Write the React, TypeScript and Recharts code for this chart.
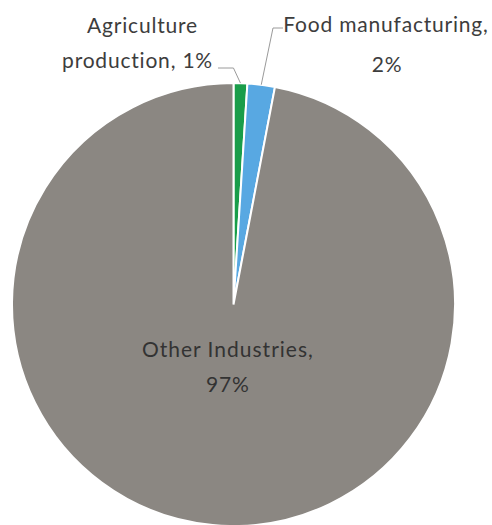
import { PieChart, Pie, Cell } from "recharts";

const categories = ["Agriculture production", "Food manufacturing", "Other Industries"];
const shares = [1, 2, 97];
const colors = ["#199d4a", "#58a8e2", "#8b8782"];

const data = categories.map((name, i) => ({ name, value: shares[i] }));

const RAD = Math.PI / 180;
const FONT = "Lato, 'Open Sans', sans-serif";
const TEXT = "#3d3d3d";
const LEADER = "#9a9a9a";

const txt = { fontSize: 21, fontFamily: FONT, letterSpacing: 0.8 };

function renderLabel(props: any) {
  const { cx, cy, midAngle, outerRadius, index, value } = props;
  const sx = cx + outerRadius * Math.cos(-midAngle * RAD);
  const sy = cy + outerRadius * Math.sin(-midAngle * RAD);
  if (index === 0) {
    const mx = sx - 7;
    const my = 68;
    const ex = 218;
    return (
      <g>
        <polyline points={`${sx},${sy} ${mx},${my} ${ex},${my}`} fill="none" stroke={LEADER} strokeWidth={1} />
        <text x={142.5} y={33} textAnchor="middle" fill={TEXT} {...txt}>
          Agriculture
        </text>
        <text x={213} y={68} textAnchor="end" fill={TEXT} {...txt}>
          {`production, ${value}%`}
        </text>
      </g>
    );
  }
  if (index === 1) {
    const mx = 273;
    const my = 28;
    const ex = 283;
    return (
      <g>
        <polyline points={`${sx},${sy} ${mx},${my} ${ex},${my}`} fill="none" stroke={LEADER} strokeWidth={1} />
        <text x={386} y={32} textAnchor="middle" fill={TEXT} {...txt}>
          Food manufacturing,
        </text>
        <text x={387} y={72} textAnchor="middle" fill={TEXT} {...txt}>
          {`${value}%`}
        </text>
      </g>
    );
  }
  const lx = cx + 60 * Math.cos(-midAngle * RAD);
  const ly = cy + 60 * Math.sin(-midAngle * RAD);
  return (
    <g>
      <text x={lx} y={ly - 7} textAnchor="middle" fill="#333" {...txt} letterSpacing={1}>
        Other Industries,
      </text>
      <text x={lx} y={ly + 28} textAnchor="middle" fill="#333" {...txt}>
        {`${value}%`}
      </text>
    </g>
  );
}

export default function App() {
  return (
    <div style={{ position: "absolute", left: 0, top: 0, width: 492, height: 525, background: "#fff" }}>
      <PieChart width={492} height={525} margin={{ top: 0, right: 0, bottom: 0, left: 0 }}>
        <Pie
          data={data}
          dataKey="value"
          nameKey="name"
          cx={233.5}
          cy={304.5}
          outerRadius={221.5}
          startAngle={90}
          endAngle={-270}
          stroke="#ffffff"
          strokeWidth={2}
          label={renderLabel}
          labelLine={false}
          isAnimationActive={false}
        >
          {data.map((d, i) => (
            <Cell key={d.name} fill={colors[i]} />
          ))}
        </Pie>
      </PieChart>
    </div>
  );
}
